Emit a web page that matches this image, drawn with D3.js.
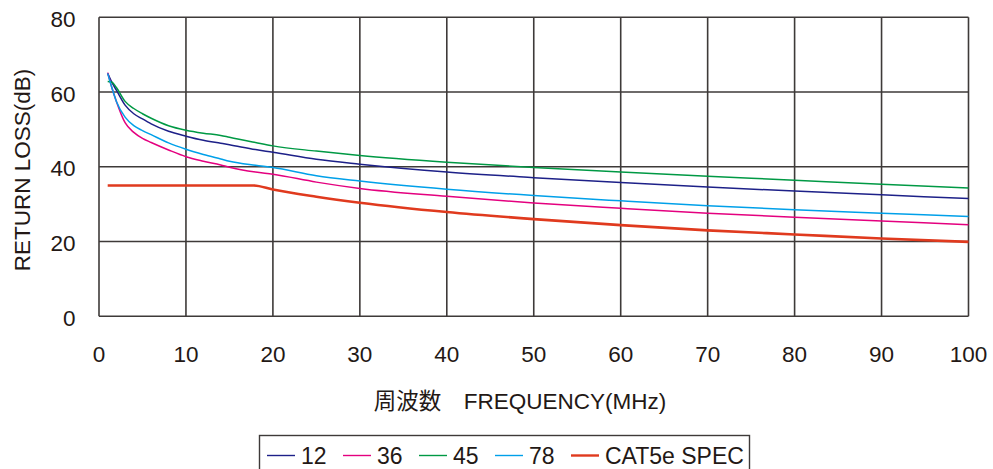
<!DOCTYPE html>
<html>
<head>
<meta charset="utf-8">
<script src="https://cdn.jsdelivr.net/npm/d3@7"></script>
<style>
  body { margin: 0; background: #fff; }
  svg text { font-family: "Liberation Sans", Arial, "Noto Sans CJK JP", sans-serif; fill: #231815; }
</style>
</head>
<body>
<div id="chart"></div>
<script>
// frequency points (MHz) for the measured cables
const freqs = [1, 1.5, 2, 3, 4, 5, 6, 8, 10, 12, 14, 15, 18, 20, 25, 30, 40, 50, 60, 70, 80, 90, 100];
// return loss (dB) per cable
const rl12 = [65.0, 62.5, 60.5, 56.5, 54.2, 52.8, 51.5, 49.5, 48.2, 47.1, 46.3, 45.9, 44.6, 43.9, 42.0, 40.7, 38.6, 37.1, 35.8, 34.6, 33.5, 32.5, 31.5];
const rl36 = [65.2, 61.0, 57.5, 51.8, 49.2, 47.6, 46.5, 44.5, 42.7, 41.5, 40.5, 39.9, 38.6, 38.0, 35.9, 34.2, 32.1, 30.3, 28.9, 27.6, 26.5, 25.5, 24.5];
const rl45 = [62.8, 62.6, 61.2, 57.5, 55.6, 54.2, 53.0, 51.0, 49.8, 49.0, 48.4, 47.9, 46.5, 45.6, 44.2, 43.0, 41.2, 39.8, 38.6, 37.5, 36.4, 35.3, 34.3];
const rl78 = [65.0, 61.0, 57.5, 53.3, 51.0, 49.7, 48.6, 46.4, 44.7, 43.3, 42.1, 41.5, 40.4, 39.8, 37.6, 36.2, 34.0, 32.3, 30.9, 29.6, 28.5, 27.6, 26.7];
// CAT5e spec limit
const specFreqs = [1, 17.8, 20, 25, 30, 40, 50, 60, 70, 80, 90, 100];
const specRL = [35, 35, 33.9, 32.0, 30.4, 27.9, 26.0, 24.4, 23.0, 21.9, 20.8, 19.9];

const seriesNames = ["12", "36", "45", "78", "CAT5e SPEC"];
const seriesColors = ["#1d2088", "#e4007f", "#009944", "#00a0e9", "#e03a1e"];
const xTicks = [0, 10, 20, 30, 40, 50, 60, 70, 80, 90, 100];
const yTicks = [0, 20, 40, 60, 80];

function drawChart(id) {
  const w = 993;
  const h = 469;
  const plot = { left: 99, right: 968.5, top: 17.3, bottom: 316.3 };

  const svg = d3.select(`#${id}`).append("svg")
    .attr("width", w)
    .attr("height", h);

  const xScale = d3.scaleLinear().domain([0, 100]).range([plot.left, plot.right]);
  const yScale = d3.scaleLinear().domain([0, 80]).range([plot.bottom, plot.top]);

  // grid
  const grid = svg.append("g").attr("stroke", "#3e3a39").attr("stroke-width", 1.6);
  grid.selectAll(".vg").data(xTicks).enter().append("line")
    .attr("x1", (d) => xScale(d)).attr("x2", (d) => xScale(d))
    .attr("y1", plot.top).attr("y2", plot.bottom);
  grid.selectAll(".hg").data(yTicks).enter().append("line")
    .attr("x1", plot.left).attr("x2", plot.right)
    .attr("y1", (d) => yScale(d)).attr("y2", (d) => yScale(d));

  // tick labels
  svg.append("g").selectAll("text").data(xTicks).enter().append("text")
    .attr("x", (d) => xScale(d))
    .attr("y", 362)
    .attr("text-anchor", "middle")
    .attr("font-size", 22.5)
    .text((d) => d);
  svg.append("g").selectAll("text").data(yTicks).enter().append("text")
    .attr("x", 75.5)
    .attr("y", (d) => yScale(d) + 9.5)
    .attr("text-anchor", "end")
    .attr("font-size", 22.5)
    .text((d) => d);

  // axis titles
  svg.append("text")
    .attr("x", 520)
    .attr("y", 409)
    .attr("text-anchor", "middle")
    .attr("font-size", 22.5)
    .text("周波数　FREQUENCY(MHz)");
  svg.append("text")
    .attr("transform", "translate(30,170)rotate(-90)")
    .attr("text-anchor", "middle")
    .attr("font-size", 22.5)
    .text("RETURN LOSS(dB)");

  // lines
  const line = d3.line()
    .x((d) => xScale(d[0]))
    .y((d) => yScale(d[1]))
    .curve(d3.curveMonotoneX);

  const cables = [rl12, rl36, rl45, rl78];
  cables.forEach((vals, i) => {
    svg.append("path")
      .datum(freqs.map((f, j) => [f, vals[j]]))
      .attr("fill", "none")
      .attr("stroke", seriesColors[i])
      .attr("stroke-width", 1.5)
      .attr("d", line);
  });
  svg.append("path")
    .datum(specFreqs.map((f, j) => [f, specRL[j]]))
    .attr("fill", "none")
    .attr("stroke", seriesColors[4])
    .attr("stroke-width", 2.6)
    .attr("d", line);

  // legend box (runs off the bottom like the original)
  svg.append("rect")
    .attr("x", 259.5).attr("y", 435.5)
    .attr("width", 490).attr("height", 45)
    .attr("fill", "none")
    .attr("stroke", "#3e3a39")
    .attr("stroke-width", 1.4);

  const legendX = [267, 343, 419, 495, 571];
  const legend = svg.append("g").selectAll("g").data(seriesNames).enter().append("g")
    .attr("transform", (d, i) => `translate(${legendX[i]}, 455.5)`);
  legend.append("line")
    .attr("x1", 0).attr("x2", 28)
    .attr("stroke", (d, i) => seriesColors[i])
    .attr("stroke-width", (d, i) => (i === 4 ? 2.4 : 1.4));
  legend.append("text")
    .attr("x", 34)
    .attr("y", 8.5)
    .attr("font-size", 23)
    .text((d) => d);
}

document.addEventListener("DOMContentLoaded", function () {
  drawChart("chart");
});
</script>
</body>
</html>
